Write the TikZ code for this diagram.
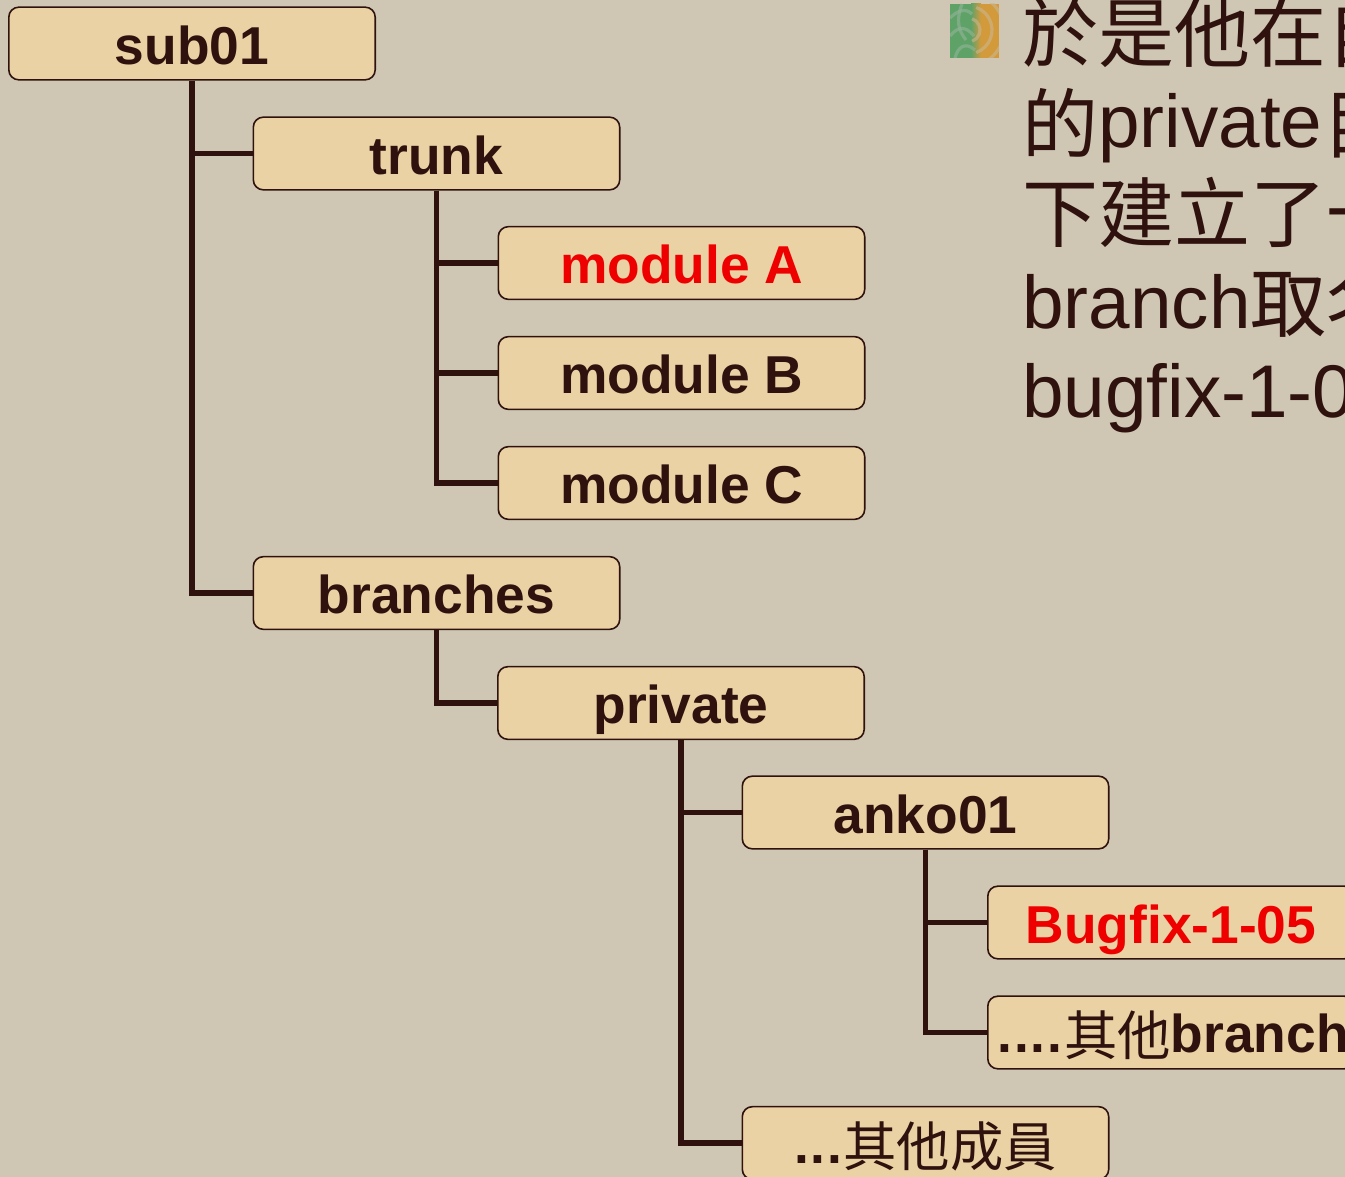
\documentclass[tikz,border=0pt]{standalone}
\usepackage{fontspec}
\setmainfont{Liberation Sans}
\newfontfamily\cjk{Noto Sans CJK TC}
\definecolor{bgc}{HTML}{CFC7B4}
\definecolor{boxc}{HTML}{EAD2A5}
\definecolor{ink}{HTML}{2F120E}
\definecolor{redt}{HTML}{EE0000}
\definecolor{bgreen}{HTML}{5FA268}
\definecolor{bgreenl}{HTML}{93B397}
\definecolor{borange}{HTML}{D39A3C}
\definecolor{borangel}{HTML}{C9B68F}
\newcommand{\bigcjk}[1]{{\fontsize{57}{57}\cjk\selectfont #1}}
\newcommand{\lowcjk}[2]{\raisebox{#1}{\fontsize{57}{57}\cjk\selectfont #2}}
\newcommand{\boxcjk}[1]{\raisebox{-2.25pt}{\cjk\mdseries #1}}
\tikzset{
  treebox/.style={draw=ink,line width=1.2pt,fill=boxc,rounded corners=7.5pt,minimum width=274.8pt,minimum height=54.5pt,inner sep=0pt,
    text=ink,font=\fontsize{40}{40}\selectfont\bfseries,text height=31pt,text depth=0pt},
  redlabel/.style={text=redt},
  link/.style={draw=ink,line width=3.9pt,line join=miter},
  bodytext/.style={anchor=base west,inner sep=0pt,text=ink,font=\fontsize{56}{56}\selectfont},
  boxtext/.style={anchor=base west,inner sep=0pt,text=ink,font=\fontsize{40}{40}\selectfont\bfseries},
  bulletarc/.style={line width=2.4pt,opacity=.6}
}
\begin{document}
\begin{tikzpicture}[x=0.75pt,y=-0.75pt]
\useasboundingbox (0,0) rectangle (1345,1177);
\clip (0,0) rectangle (1345,1177);
\fill[bgc] (0,0) rectangle (1345,1177);
% boxes
\node[treebox] (sub01) at (192,43.5) {sub01};
\node[treebox] (trunk) at (436.5,153.5) {trunk};
\node[treebox,redlabel] (moda) at (681.5,263) {module A};
\node[treebox] (modb) at (681.5,373) {module B};
\node[treebox] (modc) at (681.5,483) {module C};
\node[treebox] (branches) at (436.5,593) {branches};
\node[treebox] (private) at (681,703) {private};
\node[treebox] (anko) at (925.5,812.5) {anko01};
\node[treebox,redlabel] (bugfix) at (1171,922.5) {Bugfix-1-05};
\node[treebox] (other) at (1171,1032.5) {};
\node[boxtext] (otherlabel) at (997,1052) {.\kern1.5pt.\kern1.5pt.\kern1.5pt.\kern1.2pt\boxcjk{其他}branch};
\node[treebox] (members) at (925.5,1143) {};
\node[boxtext] (memberslabel) at (794,1163) {.\kern1.2pt.\kern1.2pt.\kern1.2pt\boxcjk{其他成員}};
% connectors
\draw[link] (sub01.south) |- (trunk.west);
\draw[link] (sub01.south) |- (branches.west);
\draw[link] (trunk.south) |- (moda.west);
\draw[link] (trunk.south) |- (modb.west);
\draw[link] (trunk.south) |- (modc.west);
\draw[link] (branches.south) |- (private.west);
\draw[link] (private.south) |- (anko.west);
\draw[link] (private.south) |- (members.west);
\draw[link] (anko.south) |- (bugfix.west);
\draw[link] (anko.south) |- (other.west);
% bullet
\begin{scope}
\clip (950,4) rectangle (999,58);
\fill[bgreen] (950,4) rectangle (976,58);
\fill[borange] (976,4) rectangle (999,58);
\fill[left color=bgreen,right color=borange,draw=none] (971,4) rectangle (981,58);
\foreach \r in {12,24,36}{
  \draw[bulletarc,borangel] (968,30) ++(-70:\r) arc (-70:70:\r);
}
\draw[bulletarc,bgreenl] (950,18) .. controls (958,10) and (966,8) .. (972,14);
\draw[bulletarc,bgreenl] (950,36) .. controls (958,26) and (966,26) .. (974,36);
\draw[bulletarc,bgreenl] (955,58) .. controls (958,46) and (966,42) .. (975,50);
\draw[bulletarc,bgreenl] (962,4) .. controls (956,20) and (958,30) .. (966,40);
\end{scope}
% body text
\node[bodytext] (line1) at (1022,62) {\bigcjk{於是他在自}};
\node[bodytext] (line2) at (1022,148) {\lowcjk{-3.5pt}{的}private\lowcjk{-3.5pt}{目}};
\node[bodytext] (line3) at (1022,241) {\bigcjk{下建立了一}};
\node[bodytext] (line4) at (1022,328) {branch\lowcjk{-2.25pt}{取名}};
\node[bodytext] (line5) at (1022,417) {bugfix-1-05};
\end{tikzpicture}
\end{document}
